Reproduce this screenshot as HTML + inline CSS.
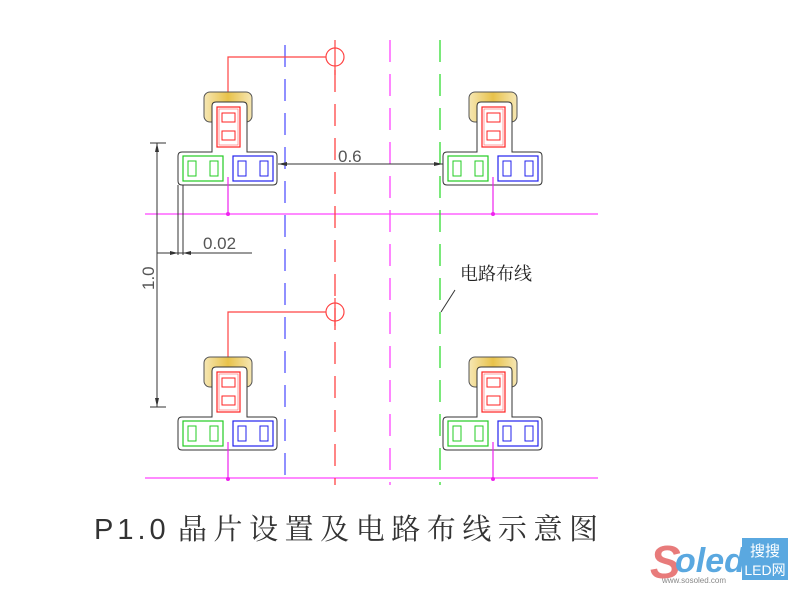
<!DOCTYPE html>
<html><head><meta charset="utf-8"><style>
html,body{margin:0;padding:0;background:#fff;width:800px;height:599px;overflow:hidden}
</style></head><body>
<svg width="800" height="599" viewBox="0 0 800 599" xmlns="http://www.w3.org/2000/svg" font-family="Liberation Sans, DejaVu Sans, sans-serif">
<defs>
<linearGradient id="yg" x1="0" x2="1" y1="0" y2="0">
<stop offset="0" stop-color="#f6e7b4"/><stop offset="0.5" stop-color="#e8c24a"/><stop offset="1" stop-color="#f6e7b4"/>
</linearGradient>
<g id="chip">
<rect x="204" y="92" width="48" height="30" rx="6" fill="url(#yg)" stroke="#555" stroke-width="1"/>
<path d="M216,102 H243 Q247,102 247,106 V152 H273 Q277,152 277,156 V181 Q277,185 273,185 H182 Q178,185 178,181 V156 Q178,152 182,152 H212 V106 Q212,102 216,102 Z" fill="#fff" stroke="#333" stroke-width="1"/>
<rect x="217" y="107" width="23" height="40" fill="none" stroke="#f22" stroke-width="1.2"/>
<rect x="219" y="109" width="19" height="36" fill="none" stroke="#f66" stroke-width="0.6"/>
<rect x="222" y="113" width="13" height="9" fill="none" stroke="#f22" stroke-width="1"/>
<rect x="222" y="131" width="13" height="9" fill="none" stroke="#f22" stroke-width="1"/>
<rect x="183" y="156" width="40" height="25" fill="none" stroke="#2c2" stroke-width="1.2"/>
<rect x="188" y="161" width="8" height="15" fill="none" stroke="#2c2" stroke-width="1"/>
<rect x="210" y="161" width="8" height="15" fill="none" stroke="#2c2" stroke-width="1"/>
<rect x="233" y="156" width="40" height="25" fill="none" stroke="#22e" stroke-width="1.2"/>
<rect x="238" y="161" width="8" height="15" fill="none" stroke="#22e" stroke-width="1"/>
<rect x="260" y="161" width="8" height="15" fill="none" stroke="#22e" stroke-width="1"/>
<line x1="228" y1="177" x2="228" y2="214" stroke="#e2e" stroke-width="1.2"/>
<circle cx="228" cy="214" r="2" fill="#e2e"/>
</g>
</defs>
<line x1="145" y1="214" x2="598" y2="214" stroke="#f4f" stroke-width="1.3"/>
<line x1="145" y1="478" x2="598" y2="478" stroke="#f4f" stroke-width="1.3"/>
<line x1="285" y1="45" x2="285" y2="485" stroke="#55f" stroke-width="1.3" stroke-dasharray="22,12"/>
<line x1="335" y1="70" x2="335" y2="485" stroke="#f44" stroke-width="1.3" stroke-dasharray="22,12"/>
<line x1="390" y1="40" x2="390" y2="485" stroke="#f4f" stroke-width="1.3" stroke-dasharray="22,12"/>
<line x1="440" y1="40" x2="440" y2="485" stroke="#3d3" stroke-width="1.3" stroke-dasharray="22,12"/>
<polyline points="228,100 228,57 326,57" fill="none" stroke="#f44" stroke-width="1.2"/>
<circle cx="335" cy="57" r="9" fill="none" stroke="#f44" stroke-width="1.2"/>
<line x1="335" y1="40" x2="335" y2="75" stroke="#f44" stroke-width="1.2"/>
<polyline points="228,365 228,312 326,312" fill="none" stroke="#f44" stroke-width="1.2"/>
<circle cx="335" cy="312" r="9" fill="none" stroke="#f44" stroke-width="1.2"/>
<line x1="335" y1="298" x2="335" y2="326" stroke="#f44" stroke-width="1.2"/>
<use href="#chip"/>
<use href="#chip" transform="translate(265,0)"/>
<use href="#chip" transform="translate(0,265)"/>
<use href="#chip" transform="translate(265,265)"/>
<g stroke="#333" stroke-width="1" fill="none">
<line x1="278" y1="164" x2="443" y2="164"/>
<line x1="157" y1="143" x2="157" y2="407"/>
<line x1="150" y1="143" x2="166" y2="143"/>
<line x1="150" y1="407" x2="166" y2="407"/>
<line x1="178" y1="185" x2="178" y2="255"/>
<line x1="183" y1="185" x2="183" y2="255"/>
<line x1="157" y1="253" x2="252" y2="253"/>
<line x1="455" y1="290" x2="441" y2="312"/>
</g>
<g fill="#333">
<polygon points="278,164 287,162 287,166"/>
<polygon points="443,164 434,162 434,166"/>
<polygon points="157,143 155,152 159,152"/>
<polygon points="157,407 155,398 159,398"/>
<polygon points="178,253 170,251 170,255"/>
<polygon points="183,253 191,251 191,255"/>
</g>
<g fill="#555" font-size="17">
<text x="338" y="162">0.6</text>
<text x="203" y="249">0.02</text>
<text transform="translate(154,290) rotate(-90)">1.0</text>
</g>
<text x="460" y="280" font-size="18" font-family="Noto Serif CJK SC, Noto Sans CJK SC, serif" fill="#222">电路布线</text>
<text x="94" y="539" font-size="29" font-family="Liberation Sans, sans-serif" fill="#333" letter-spacing="4">P1.0</text>
<text x="178" y="539" font-size="29" textLength="420" lengthAdjust="spacing" font-family="Noto Serif CJK SC, serif" fill="#333">晶片设置及电路布线示意图</text>
<text x="650" y="578" font-size="46" font-weight="bold" font-style="italic" fill="#e87b7b">S</text>
<text x="675" y="572" font-size="34" font-weight="bold" font-style="italic" fill="#5aa8e0">oled</text>
<text x="662" y="583" font-size="8" fill="#888">www.sosoled.com</text>
<rect x="742" y="538" width="46" height="42" fill="#5aa8e0"/>
<text x="765" y="556" font-size="15" text-anchor="middle" fill="#fff" font-family="Noto Sans CJK SC, sans-serif">搜搜</text>
<text x="765" y="575" font-size="14" text-anchor="middle" fill="#fff" font-family="Liberation Sans, Noto Sans CJK SC, sans-serif">LED网</text>
</svg>
</body></html>
